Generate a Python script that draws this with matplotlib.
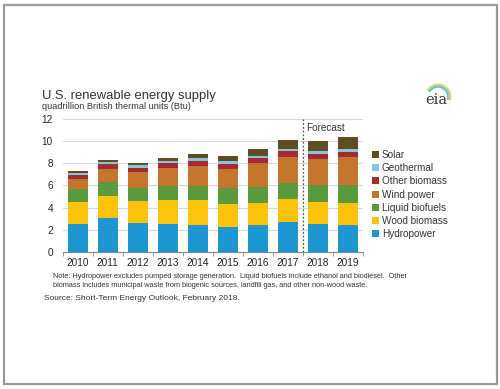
import matplotlib
matplotlib.use("Agg")
import matplotlib.pyplot as plt
import numpy as np
from matplotlib.patches import Rectangle, Arc

plt.rcParams["font.family"] = ["Liberation Sans", "DejaVu Sans"]

years = ["2010", "2011", "2012", "2013", "2014", "2015", "2016", "2017", "2018", "2019"]
hydropower = [2.48, 3.08, 2.57, 2.51, 2.42, 2.27, 2.42, 2.72, 2.48, 2.42]
wood_biomass = [2.00, 1.97, 2.03, 2.18, 2.27, 2.08, 2.02, 2.03, 2.00, 2.02]
liquid_biofuels = [1.18, 1.30, 1.20, 1.29, 1.29, 1.40, 1.45, 1.51, 1.54, 1.58]
wind_power = [0.93, 1.17, 1.40, 1.64, 1.79, 1.77, 2.12, 2.35, 2.41, 2.59]
other_biomass = [0.36, 0.40, 0.42, 0.39, 0.45, 0.45, 0.45, 0.49, 0.45, 0.46]
geothermal = [0.21, 0.18, 0.21, 0.24, 0.24, 0.22, 0.22, 0.21, 0.25, 0.24]
solar = [0.15, 0.21, 0.18, 0.27, 0.40, 0.49, 0.60, 0.82, 0.88, 1.06]

series = [
    ("Hydropower", hydropower, "#1e96d2"),
    ("Wood biomass", wood_biomass, "#fdc30a"),
    ("Liquid biofuels", liquid_biofuels, "#5a9a3c"),
    ("Wind power", wind_power, "#c4762f"),
    ("Other biomass", other_biomass, "#a22a30"),
    ("Geothermal", geothermal, "#8cc3dc"),
    ("Solar", solar, "#5e4c22"),
]

W, H = 500, 389
fig = plt.figure(figsize=(W / 100, H / 100), dpi=100)
fig.patch.set_facecolor("white")

def fx(px):
    return px / W

def fy(py):
    return 1 - py / H

# outer frame
fig.add_artist(Rectangle((fx(4), fy(384)), fx(497) - fx(4), fy(5) - fy(384),
                         transform=fig.transFigure, fill=False,
                         edgecolor="#9a9a9a", linewidth=1.6))

ax = fig.add_axes([fx(62.7), fy(251.7), fx(362.7) - fx(62.7), fy(119.3) - fy(251.7)])
x = np.arange(len(years))
bottom = np.zeros(len(years))
handles = []
for name, vals, color in series:
    b = ax.bar(x, vals, width=0.67, bottom=bottom, color=color, label=name,
               edgecolor="none", zorder=3)
    handles.append(b)
    bottom += np.array(vals)

ax.set_xlim(-0.5, len(years) - 0.5)
ax.set_ylim(0, 12)
ax.set_yticks(range(0, 13, 2))
ax.yaxis.grid(True, color="#d9d9d9", linewidth=0.8, zorder=0)
ax.set_xticks(x)
ax.set_xticklabels(years, fontsize=7.2, color="#222222")
ax.set_xticks(np.arange(-0.5, len(years), 1), minor=True)
ax.tick_params(axis="x", which="major", length=0, pad=4.5)
ax.tick_params(axis="x", which="minor", length=3, color="#888888", direction="out")
ax.tick_params(axis="y", length=0, labelsize=7.2, labelcolor="#222222", pad=7)
for s in ["top", "right", "left"]:
    ax.spines[s].set_visible(False)
ax.spines["bottom"].set_color("#888888")
ax.spines["bottom"].set_linewidth(0.8)

# forecast divider
ax.axvline(7.5, color="#555555", linestyle=(0, (1.5, 1.5)), linewidth=0.9, zorder=4)
ax.text(7.62, 11.25, "Forecast", fontsize=7.2, color="#333333", va="center", ha="left")

leg = ax.legend(handles[::-1], [s[0] for s in series][::-1], loc="upper left",
                bbox_to_anchor=(fx(372), fy(150)), bbox_transform=fig.transFigure,
                frameon=False, fontsize=7.2, handlelength=0.7, handleheight=0.7,
                handletextpad=0.3, labelspacing=0.32, borderaxespad=0, borderpad=0)
for t in leg.get_texts():
    t.set_color("#333333")

fig.text(fx(42), fy(95.5), "U.S. renewable energy supply", fontsize=9.4,
         color="#333333", va="center", ha="left")
fig.text(fx(42), fy(106.5), "quadrillion British thermal units (Btu)", fontsize=6.6,
         color="#333333", va="center", ha="left")

fig.text(fx(53), fy(277), "Note: Hydropower excludes pumped storage generation.  Liquid biofuels "
         "include ethanol and biodiesel.  Other", fontsize=5.35, color="#333333",
         va="center", ha="left")
fig.text(fx(53), fy(285.5), "biomass includes municipal waste from biogenic sources, landfill gas, "
         "and other non-wood waste.", fontsize=5.35, color="#333333", va="center", ha="left")
fig.text(fx(44), fy(299), "Source: Short-Term Energy Outlook, February 2018.", fontsize=6.0,
         color="#333333", va="center", ha="left")

# eia logo, drawn in pixel coordinates (y axis points down)
lax = fig.add_axes([0, 0, 1, 1], zorder=5)
lax.set_xlim(0, W)
lax.set_ylim(H, 0)
lax.axis("off")
lax.patch.set_alpha(0)
lax.text(436, 100, "eia", fontsize=10.5, family="DejaVu Serif", color="#3a3a3a",
         va="center", ha="center")
for r, c in [(13, "#e8e07a"), (11.5, "#8fcf8a"), (10, "#4fb3d9")]:
    lax.add_patch(Arc((438, 97), 2 * r, 2 * r, theta1=-150, theta2=15,
                      color=c, linewidth=1.0))

fig.savefig("out.png", dpi=100)
